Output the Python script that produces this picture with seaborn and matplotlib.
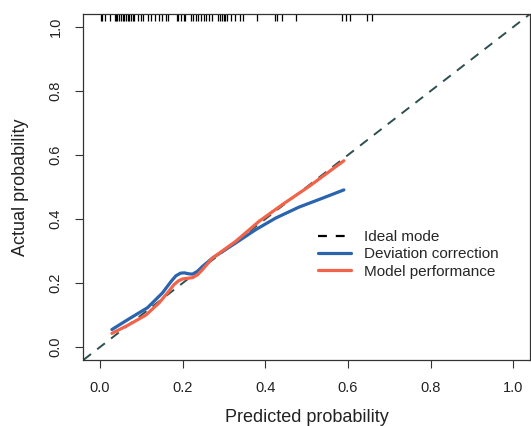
import numpy as np
import pandas as pd
import matplotlib
matplotlib.use("Agg")
import matplotlib.pyplot as plt
import seaborn as sns

# calibration curves
dev_pred = [0.029, 0.07, 0.115, 0.151, 0.172, 0.184, 0.195, 0.204, 0.215, 0.224, 0.236,
            0.248, 0.272, 0.328, 0.377, 0.425, 0.481, 0.538, 0.590]
dev_act = [0.055, 0.088, 0.123, 0.169, 0.205, 0.223, 0.231, 0.232, 0.229, 0.228, 0.237,
           0.252, 0.278, 0.325, 0.367, 0.403, 0.437, 0.465, 0.491]

mod_pred = [0.029, 0.07, 0.111, 0.143, 0.165, 0.179, 0.190, 0.200, 0.212, 0.224, 0.236,
            0.248, 0.272, 0.328, 0.385, 0.441, 0.506, 0.590]
mod_act = [0.043, 0.070, 0.100, 0.138, 0.172, 0.195, 0.207, 0.213, 0.215, 0.217, 0.226,
           0.242, 0.278, 0.330, 0.393, 0.445, 0.502, 0.582]

# predicted probabilities shown as rug along the top
rug_x = [0.002, 0.005, 0.013, 0.025, 0.036, 0.039, 0.041, 0.047, 0.051, 0.055, 0.059,
         0.063, 0.067, 0.071, 0.075, 0.079, 0.083, 0.093, 0.099, 0.105, 0.117, 0.123,
         0.134, 0.143, 0.150, 0.161, 0.165, 0.186, 0.190, 0.196, 0.204, 0.207, 0.220,
         0.224, 0.232, 0.237, 0.244, 0.252, 0.256, 0.264, 0.272, 0.286, 0.290, 0.295,
         0.299, 0.303, 0.307, 0.316, 0.327, 0.338, 0.346, 0.381, 0.423, 0.429, 0.441,
         0.475, 0.586, 0.594, 0.606, 0.646, 0.657]

labels = ["Ideal mode", "Deviation correction", "Model performance"]
colors = ["#2A64AE", "#F2644A"]

sns.set_theme(style="white")
plt.rcParams['font.family'] = ['Liberation Sans', 'DejaVu Sans']

fig = plt.figure(figsize=(5.31, 4.26), dpi=100)
ax = fig.add_axes([0.157, 0.155, 0.841, 0.812])

df_dev = pd.DataFrame({"pred": dev_pred, "act": dev_act})
df_mod = pd.DataFrame({"pred": mod_pred, "act": mod_act})

ax.axline((0, 0), slope=1, color="#2F4F4F", lw=1.4, ls=(0, (5, 4)), zorder=1)
sns.lineplot(data=df_dev, x="pred", y="act", sort=False, estimator=None,
             color=colors[0], lw=2.3, ax=ax, zorder=3)
sns.lineplot(data=df_mod, x="pred", y="act", sort=False, estimator=None,
             color=colors[1], lw=2.3, ax=ax, zorder=4)

ax.vlines(rug_x, 0.98, 1.0, transform=ax.get_xaxis_transform(),
          color="black", lw=0.9, zorder=2)

ax.set_xlim(-0.04, 1.04)
ax.set_ylim(-0.04, 1.04)
ticks = [0.0, 0.2, 0.4, 0.6, 0.8, 1.0]
ax.set_xticks(ticks)
ax.set_yticks(ticks)
ax.set_xticklabels([f"{t:.1f}" for t in ticks])
ax.set_yticklabels([f"{t:.1f}" for t in ticks], rotation=90, va="center")
ax.tick_params(axis="both", direction="out", length=6, width=0.8, color="#333333",
               labelsize=10.5, labelcolor="#222222", pad=9,
               bottom=True, left=True)
for s in ax.spines.values():
    s.set_color("#333333")
    s.set_linewidth(0.9)

ax.set_xlabel("Predicted probability", fontsize=13, color="#222222", labelpad=10)
ax.set_ylabel("Actual probability", fontsize=13, color="#222222", labelpad=14)

handles = [
    plt.Line2D([], [], color="black", lw=1.6, ls=(0, (4, 4))),
    plt.Line2D([], [], color=colors[0], lw=2.3),
    plt.Line2D([], [], color=colors[1], lw=2.3),
]
ax.legend(handles, labels, loc="center left", bbox_to_anchor=(0.525, 0.305),
          frameon=False, fontsize=11, handlelength=2.2, handletextpad=0.8,
          labelspacing=0.2, borderpad=0, borderaxespad=0)

fig.savefig("out.png", dpi=100)
